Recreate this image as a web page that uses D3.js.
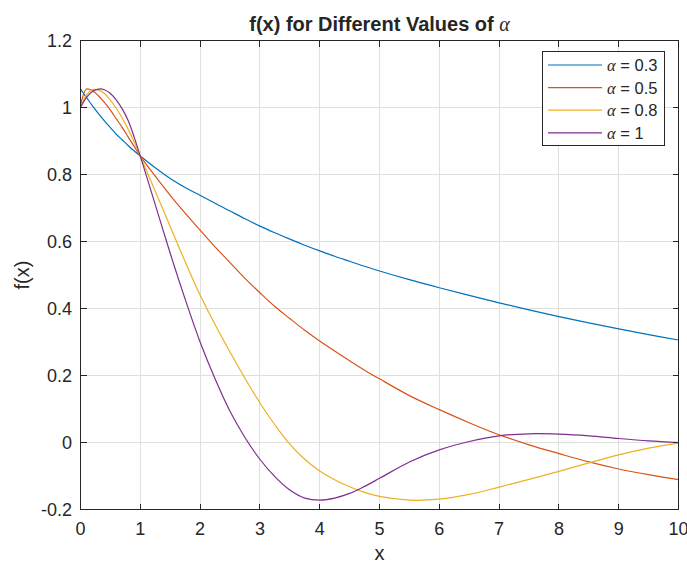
<!DOCTYPE html>
<html>
<head>
<meta charset="utf-8">
<script src="https://cdn.jsdelivr.net/npm/d3@7"></script>
<style>
  body { margin: 0; background: #fff; }
  text { font-family: 'Liberation Sans', Arial, Helvetica, sans-serif; fill: #262626; }
  .greek { font-family: 'Liberation Serif', 'Times New Roman', serif; font-style: italic; font-weight: normal; }
</style>
</head>
<body>
<svg id="chart" width="687" height="565"></svg>
<script>
// sample positions along x, shared by every curve
var xs = [0, 0.1, 0.2, 0.3, 0.4, 0.5, 0.6, 0.7, 0.8, 0.9, 1,
          1.25, 1.5, 1.75, 2, 2.25, 2.5, 2.75, 3, 3.25, 3.5, 3.75,
          4, 4.25, 4.5, 4.75, 5, 5.5, 6, 6.5, 7, 7.5, 8, 8.5, 9, 9.5, 10];

// values
var alpha03 = [1.055, 1.030, 1.005, 0.982, 0.960, 0.940, 0.920, 0.903, 0.886, 0.870, 0.855,
               0.820, 0.788, 0.761, 0.738, 0.714, 0.691, 0.668, 0.646, 0.626, 0.607, 0.589,
               0.572, 0.556, 0.541, 0.526, 0.512, 0.486, 0.462, 0.439, 0.417, 0.396, 0.376, 0.357, 0.339, 0.322, 0.306];
var alpha05 = [1.005, 1.055, 1.050, 1.035, 1.015, 0.992, 0.966, 0.940, 0.911, 0.883, 0.855,
               0.795, 0.738, 0.685, 0.634, 0.584, 0.537, 0.490, 0.447, 0.406, 0.370, 0.335,
               0.303, 0.273, 0.244, 0.216, 0.190, 0.140, 0.098, 0.059, 0.023, -0.007, -0.033, -0.058, -0.079, -0.096, -0.111];
var alpha08 = [1.000, 1.038, 1.053, 1.052, 1.042, 1.022, 0.997, 0.968, 0.934, 0.896, 0.855,
               0.750, 0.645, 0.540, 0.440, 0.352, 0.270, 0.192, 0.118, 0.053, -0.005, -0.050,
               -0.085, -0.111, -0.132, -0.149, -0.161, -0.172, -0.169, -0.155, -0.133, -0.110, -0.086, -0.061, -0.037, -0.017, -0.002];
var alpha10 = [1.000, 1.030, 1.048, 1.055, 1.053, 1.042, 1.022, 0.995, 0.960, 0.910, 0.855,
               0.710, 0.565, 0.428, 0.300, 0.190, 0.093, 0.015, -0.050, -0.102, -0.142, -0.166,
               -0.172, -0.166, -0.152, -0.131, -0.107, -0.058, -0.022, 0.003, 0.020, 0.026, 0.025, 0.020, 0.012, 0.005, 0.000];

var seriesNames = ['0.3', '0.5', '0.8', '1'];
var seriesValues = [alpha03, alpha05, alpha08, alpha10];

var xTicks = [0, 1, 2, 3, 4, 5, 6, 7, 8, 9, 10];
var yTicks = [-0.2, 0, 0.2, 0.4, 0.6, 0.8, 1, 1.2];
var yTickLabels = ['-0.2', '0', '0.2', '0.4', '0.6', '0.8', '1', '1.2'];

(function drawChart() {
  var svg = d3.select('#chart'),
      plot = {left: 80.5, right: 678.5, top: 40.5, bottom: 509.5},
      colors = ['#0072bd', '#d95319', '#edb120', '#7e2f8e'],
      axisColor = '#262626',
      tickLen = 6;

  var x = d3.scaleLinear().domain([0, 10]).range([plot.left, plot.right]),
      y = d3.scaleLinear().domain([-0.2, 1.2]).range([plot.bottom, plot.top]);

  // Grid
  var grid = svg.append('g').style('shape-rendering', 'crispEdges');
  grid.selectAll('.vgrid')
    .data(xTicks.slice(1, -1))
    .enter().append('line')
      .attr('class', 'vgrid')
      .attr('x1', function(d) { return x(d); })
      .attr('x2', function(d) { return x(d); })
      .attr('y1', plot.top)
      .attr('y2', plot.bottom)
      .style('stroke', '#dfdfdf');
  grid.selectAll('.hgrid')
    .data(yTicks.slice(1, -1))
    .enter().append('line')
      .attr('class', 'hgrid')
      .attr('x1', plot.left)
      .attr('x2', plot.right)
      .attr('y1', function(d) { return y(d); })
      .attr('y2', function(d) { return y(d); })
      .style('stroke', '#dfdfdf');

  // Curves, clipped to the axes box
  svg.append('clipPath').attr('id', 'clip')
    .append('rect')
      .attr('x', plot.left).attr('y', plot.top)
      .attr('width', plot.right - plot.left)
      .attr('height', plot.bottom - plot.top);

  var line = d3.line()
    .x(function(d) { return x(d[0]); })
    .y(function(d) { return y(d[1]); })
    .curve(d3.curveCatmullRom.alpha(0.5));

  svg.append('g').attr('clip-path', 'url(#clip)')
    .selectAll('path')
    .data(seriesValues)
    .enter().append('path')
      .attr('d', function(vals) { return line(d3.zip(xs, vals)); })
      .style('fill', 'none')
      .style('stroke', function(d, i) { return colors[i]; })
      .style('stroke-width', 1.2)
      .style('stroke-linejoin', 'round');

  // Box and inward ticks on all four sides
  var frame = svg.append('g')
    .style('stroke', axisColor)
    .style('shape-rendering', 'crispEdges');
  frame.append('rect')
    .attr('x', plot.left).attr('y', plot.top)
    .attr('width', plot.right - plot.left)
    .attr('height', plot.bottom - plot.top)
    .style('fill', 'none');
  xTicks.forEach(function(t) {
    frame.append('line').attr('x1', x(t)).attr('x2', x(t))
      .attr('y1', plot.bottom).attr('y2', plot.bottom - tickLen);
    frame.append('line').attr('x1', x(t)).attr('x2', x(t))
      .attr('y1', plot.top).attr('y2', plot.top + tickLen);
  });
  yTicks.forEach(function(t) {
    frame.append('line').attr('y1', y(t)).attr('y2', y(t))
      .attr('x1', plot.left).attr('x2', plot.left + tickLen);
    frame.append('line').attr('y1', y(t)).attr('y2', y(t))
      .attr('x1', plot.right).attr('x2', plot.right - tickLen);
  });

  // Tick labels
  svg.append('g').selectAll('text')
    .data(xTicks)
    .enter().append('text')
      .attr('x', function(d) { return x(d); })
      .attr('y', 535)
      .attr('text-anchor', 'middle')
      .style('font-size', '18px')
      .text(function(d) { return d; });
  svg.append('g').selectAll('text')
    .data(yTicks)
    .enter().append('text')
      .attr('x', 72)
      .attr('y', function(d) { return y(d) + 6.5; })
      .attr('text-anchor', 'end')
      .style('font-size', '18px')
      .text(function(d, i) { return yTickLabels[i]; });

  // Axis labels
  svg.append('text')
    .attr('x', (plot.left + plot.right) / 2)
    .attr('y', 560)
    .attr('text-anchor', 'middle')
    .style('font-size', '20px')
    .text('x');
  svg.append('text')
    .attr('transform', 'translate(29,' + ((plot.top + plot.bottom) / 2) + ') rotate(-90)')
    .attr('text-anchor', 'middle')
    .style('font-size', '20px')
    .text('f(x)');

  // Title
  var title = svg.append('text')
    .attr('x', (plot.left + plot.right) / 2)
    .attr('y', 31)
    .attr('text-anchor', 'middle')
    .style('font-size', '20px')
    .style('font-weight', 'bold');
  title.append('tspan').text('f(x) for Different Values of ');
  title.append('tspan').attr('class', 'greek').text('\u03b1');

  // Legend
  var legend = svg.append('g');
  legend.append('rect')
    .attr('x', 542.5).attr('y', 51.5)
    .attr('width', 122).attr('height', 94)
    .style('fill', '#fff')
    .style('stroke', axisColor)
    .style('shape-rendering', 'crispEdges');
  var rows = legend.selectAll('.row')
    .data(seriesNames)
    .enter().append('g')
      .attr('class', 'row')
      .attr('transform', function(d, i) { return 'translate(0,' + (65 + i * 22.6) + ')'; });
  rows.append('line')
    .attr('x1', 548).attr('x2', 602)
    .style('stroke', function(d, i) { return colors[i]; })
    .style('stroke-width', 1.2);
  var labels = rows.append('text')
    .attr('x', 607)
    .attr('y', 6)
    .style('font-size', '16.5px');
  labels.append('tspan').attr('class', 'greek').text('\u03b1');
  labels.append('tspan').text(function(d) { return ' = ' + d; });
}());
</script>
</body>
</html>
